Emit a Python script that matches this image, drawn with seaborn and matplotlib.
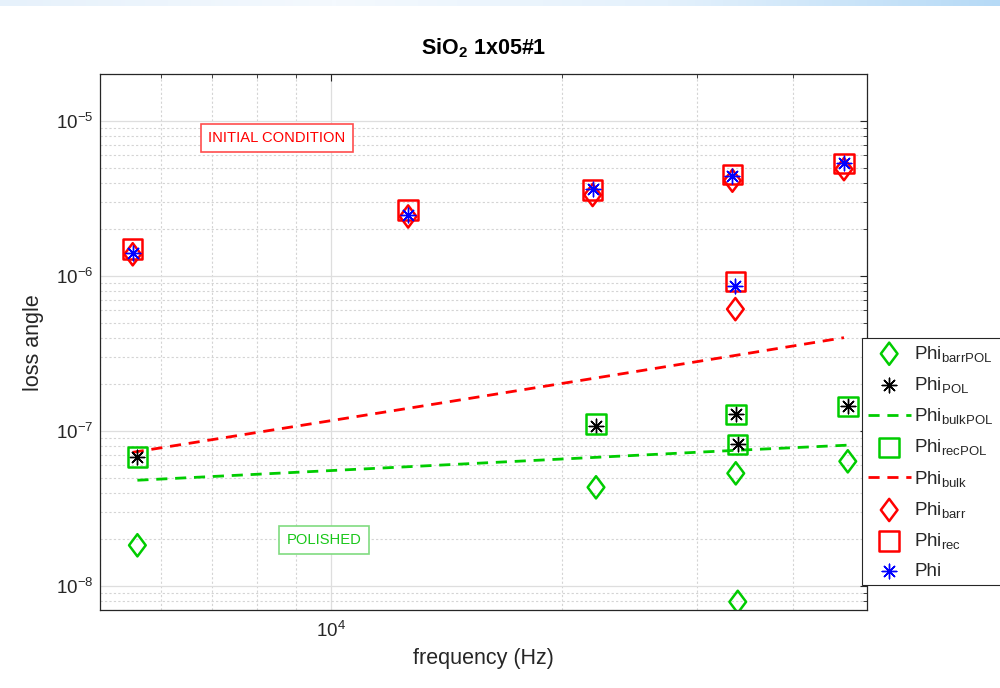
import numpy as np
import pandas as pd
import matplotlib
matplotlib.use("Agg")
import matplotlib.pyplot as plt
from matplotlib.path import Path
from matplotlib.colors import LinearSegmentedColormap
from matplotlib.ticker import LogLocator, NullFormatter
import seaborn as sns

# ---- initial condition (before polishing) ----
freq_init = [5516, 12610, 21940, 33380, 33680, 46660]
phi = [1.40e-6, 2.47e-6, 3.64e-6, 4.41e-6, 8.63e-7, 5.37e-6]
phi_rec = [1.49e-6, 2.66e-6, 3.58e-6, 4.52e-6, 9.20e-7, 5.32e-6]
phi_barr = [1.38e-6, 2.42e-6, 3.33e-6, 4.12e-6, 6.11e-7, 4.89e-6]
freq_bulk = [5516, 12610, 21940, 33380, 46660]
phi_bulk = [7.28e-8, 1.40e-7, 2.18e-7, 3.05e-7, 4.00e-7]

# ---- polished ----
freq_pol = [5594, 22165, 33720, 33920, 47200]
phi_pol = [6.80e-8, 1.07e-7, 1.28e-7, 8.20e-8, 1.44e-7]
phi_rec_pol = [6.78e-8, 1.11e-7, 1.28e-7, 8.18e-8, 1.44e-7]
phi_barr_pol = [1.83e-8, 4.33e-8, 5.33e-8, 7.90e-9, 6.37e-8]
freq_bulk_pol = [5594, 22165, 33720, 47200]
phi_bulk_pol = [4.81e-8, 6.76e-8, 7.50e-8, 8.10e-8]

x_ticks = [1e4]
y_ticks = [1e-8, 1e-7, 1e-6, 1e-5]

sns.set_theme(style="white")
plt.rcParams["font.family"] = ["Liberation Sans", "DejaVu Sans"]
plt.rcParams["mathtext.default"] = "regular"
plt.rcParams["axes.unicode_minus"] = False

GREEN = (0.0, 0.80, 0.0)
RED = (1.0, 0.0, 0.0)
BLUE = (0.0, 0.0, 1.0)
INK = "#262626"

# open diamond a bit narrower than tall, asterisk with eight arms
diamond = Path([(0, 1), (0.75, 0), (0, -1), (-0.75, 0), (0, 1)],
               [Path.MOVETO, Path.LINETO, Path.LINETO, Path.LINETO, Path.CLOSEPOLY])
asterisk = (8, 2, 0)

fig = plt.figure(figsize=(10, 6.88), dpi=100)

# pale title-bar strip along the top edge
bar = fig.add_axes([0, 1 - 6 / 688, 1, 6 / 688])
bar_cmap = LinearSegmentedColormap.from_list(
    "bar", ["#e6f1fb", "#f4f9fe", "#e4f1fc", "#b6daf6"])
bar.imshow(np.linspace(0, 1, 256)[None, :], aspect="auto", cmap=bar_cmap)
bar.set_axis_off()

ax = fig.add_axes([0.100, 0.1134, 0.767, 0.7786])
ax.set_xscale("log")
ax.set_yscale("log")

sq = 14 ** 2
dm = 16 ** 2
st = 10.5 ** 2
lw_mk = 1.8
dash = (0, (4.0, 2.8))

# polished series
sns.scatterplot(x=freq_pol, y=phi_barr_pol, ax=ax, marker=diamond, s=dm,
                facecolor="none", edgecolor=GREEN, linewidth=lw_mk,
                label=r"Phi$_{barrPOL}$", zorder=3)
sns.scatterplot(x=freq_pol, y=phi_pol, ax=ax, marker=asterisk, s=st,
                color="black", linewidth=1.0, label=r"Phi$_{POL}$", zorder=3)
sns.lineplot(x=freq_bulk_pol, y=phi_bulk_pol, ax=ax, color=GREEN, lw=2.0,
             linestyle=dash, label=r"Phi$_{bulkPOL}$", zorder=2)
sns.scatterplot(x=freq_pol, y=phi_rec_pol, ax=ax, marker="s", s=sq,
                facecolor="none", edgecolor=GREEN, linewidth=lw_mk,
                label=r"Phi$_{recPOL}$", zorder=3)

# initial condition series
sns.lineplot(x=freq_bulk, y=phi_bulk, ax=ax, color=RED, lw=2.0,
             linestyle=dash, label=r"Phi$_{bulk}$", zorder=2)
sns.scatterplot(x=freq_init, y=phi_barr, ax=ax, marker=diamond, s=dm,
                facecolor="none", edgecolor=RED, linewidth=lw_mk,
                label=r"Phi$_{barr}$", zorder=3)
sns.scatterplot(x=freq_init, y=phi_rec, ax=ax, marker="s", s=sq,
                facecolor="none", edgecolor=RED, linewidth=lw_mk,
                label=r"Phi$_{rec}$", zorder=3)
sns.scatterplot(x=freq_init, y=phi, ax=ax, marker=asterisk, s=st,
                color=BLUE, linewidth=1.0, label="Phi", zorder=3)

ax.set_xlim(5000, 50000)
ax.set_ylim(7e-9, 2e-5)

ax.xaxis.set_major_locator(LogLocator(base=10))
ax.xaxis.set_minor_locator(LogLocator(base=10, subs=np.arange(2, 10)))
ax.xaxis.set_minor_formatter(NullFormatter())
ax.set_xticks(x_ticks)
ax.set_yticks(y_ticks)
ax.yaxis.set_minor_locator(LogLocator(base=10, subs=np.arange(2, 10)))
ax.yaxis.set_minor_formatter(NullFormatter())

ax.grid(which="major", color="#dedede", linestyle="-", linewidth=0.9)
ax.grid(which="minor", color="#d4d4d4", linestyle=(0, (2, 2)), linewidth=0.8)
ax.set_axisbelow(True)

ax.tick_params(which="both", direction="in", top=True, right=True,
               colors=INK, labelcolor=INK, labelsize=13.5)
ax.tick_params(which="major", length=5, width=0.8)
ax.tick_params(axis="y", which="major", pad=5)
ax.tick_params(axis="x", which="major", pad=8)
ax.tick_params(which="minor", length=3, width=0.6)
for sp in ax.spines.values():
    sp.set_color(INK)
    sp.set_linewidth(0.9)

ax.set_xlabel("frequency (Hz)", fontsize=15.5, color=INK, labelpad=5)
ax.set_ylabel("loss angle", fontsize=15.5, color=INK, labelpad=8)
ax.set_title(r"SiO$_2$ 1x05#1", fontsize=15.5, fontweight="bold", color="black", pad=14)

# annotations for the two surface states
ax.text(0.2308, 0.881, "INITIAL CONDITION", transform=ax.transAxes,
        ha="center", va="center", fontsize=10.6, color=RED,
        bbox=dict(boxstyle="square,pad=0.5", fc="white",
                  ec=(1.0, 0.3, 0.3), lw=1.2))
ax.text(0.292, 0.1307, "POLISHED", transform=ax.transAxes,
        ha="center", va="center", fontsize=10.6, color=(0.1, 0.78, 0.1),
        bbox=dict(boxstyle="square,pad=0.5", fc="white",
                  ec=(0.5, 0.86, 0.5), lw=1.2))

# legend box runs past the right edge of the figure
handles, labels = ax.get_legend_handles_labels()
ax.legend(handles, labels, loc="upper left", mode="expand",
          bbox_to_anchor=(0.862, 0.0, 0.15, 0.5087),
          bbox_transform=fig.transFigure, borderaxespad=0, fontsize=13.5,
          frameon=True, fancybox=False, framealpha=1, edgecolor=INK,
          handlelength=2.3, handletextpad=0.2, labelspacing=0.6,
          borderpad=0.3)
ax.get_legend().get_frame().set_linewidth(0.8)
ax.get_legend().set_zorder(10)

fig.savefig("out.png", dpi=100)
